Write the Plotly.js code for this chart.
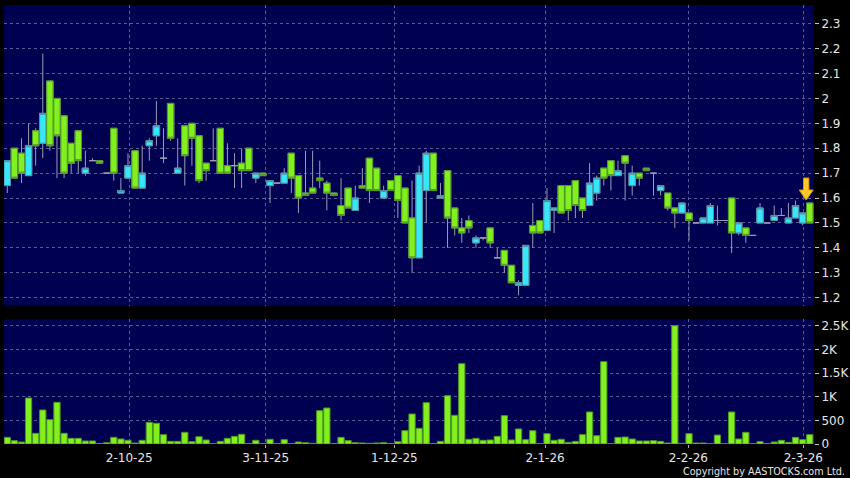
<!DOCTYPE html>
<html>
<head>
<meta charset="utf-8">
<script src="https://cdn.plot.ly/plotly-3.0.1.min.js"></script>
<style>
  html, body { margin: 0; padding: 0; background: #000000; }
  #chart { width: 850px; height: 478px; }
</style>
</head>
<body>
<div id="chart"></div>
<script>
// ---- Data ----
// Green candles = falling (open above close), cyan candles = rising.
const openP = [
  1.65,1.80,1.78,1.69,1.87,1.82,2.07,2.00,1.93,1.82,
  1.87,1.70,1.75,1.75,1.70,1.88,1.62,1.68,1.79,1.64,
  1.81,1.85,1.76,1.98,1.70,1.89,1.90,1.85,1.74,1.75,
  1.88,1.73,1.73,1.74,1.80,1.68,1.70,1.65,1.66,1.66,
  1.78,1.69,1.62,1.64,1.68,1.66,1.62,1.57,1.64,1.55,
  1.65,1.76,1.72,1.60,1.67,1.69,1.64,1.52,1.36,1.63,
  1.78,1.60,1.71,1.56,1.48,1.51,1.42,1.44,1.48,1.36,
  1.39,1.33,1.25,1.25,1.49,1.51,1.47,1.55,1.65,1.65,
  1.67,1.60,1.57,1.62,1.72,1.75,1.69,1.77,1.65,1.70,
  1.72,1.70,1.63,1.62,1.56,1.54,1.54,1.50,1.50,1.50,
  1.51,1.51,1.60,1.46,1.48,1.45,1.50,1.50,1.51,1.53,
  1.50,1.52,1.50,1.58
];
const highP = [
  1.75,1.80,1.84,1.90,1.88,2.18,2.07,2.00,1.93,1.82,
  1.87,1.79,1.76,1.75,1.70,1.88,1.68,1.78,1.79,1.81,
  1.84,1.99,1.88,1.98,1.84,1.89,1.90,1.85,1.74,1.88,
  1.88,1.82,1.78,1.80,1.80,1.70,1.70,1.67,1.66,1.72,
  1.78,1.69,1.79,1.79,1.75,1.67,1.62,1.68,1.64,1.65,
  1.72,1.76,1.72,1.65,1.67,1.69,1.64,1.67,1.73,1.79,
  1.78,1.66,1.71,1.56,1.52,1.53,1.45,1.44,1.48,1.40,
  1.39,1.33,1.27,1.41,1.58,1.51,1.64,1.56,1.65,1.65,
  1.67,1.60,1.74,1.69,1.72,1.75,1.75,1.77,1.73,1.70,
  1.72,1.70,1.65,1.62,1.56,1.58,1.54,1.50,1.52,1.58,
  1.57,1.51,1.60,1.50,1.48,1.45,1.58,1.50,1.57,1.56,
  1.58,1.59,1.54,1.58
];
const lowP = [
  1.62,1.68,1.66,1.69,1.73,1.76,1.79,1.68,1.68,1.70,
  1.70,1.69,1.75,1.74,1.70,1.67,1.62,1.68,1.64,1.64,
  1.75,1.81,1.74,1.83,1.70,1.65,1.73,1.66,1.67,1.75,
  1.70,1.70,1.64,1.64,1.71,1.66,1.69,1.58,1.66,1.66,
  1.62,1.54,1.61,1.62,1.64,1.55,1.61,1.51,1.56,1.55,
  1.64,1.58,1.63,1.60,1.63,1.52,1.50,1.30,1.36,1.50,
  1.63,1.60,1.40,1.45,1.42,1.46,1.40,1.43,1.40,1.36,
  1.30,1.26,1.21,1.25,1.40,1.46,1.47,1.46,1.54,1.51,
  1.52,1.52,1.57,1.59,1.65,1.63,1.69,1.59,1.61,1.65,
  1.71,1.61,1.61,1.55,1.48,1.54,1.43,1.50,1.50,1.50,
  1.49,1.51,1.38,1.45,1.42,1.45,1.50,1.50,1.51,1.53,
  1.50,1.52,1.49,1.50
];
const closeP = [
  1.75,1.68,1.70,1.81,1.81,1.94,1.81,1.85,1.70,1.74,
  1.75,1.72,1.75,1.74,1.70,1.70,1.63,1.73,1.64,1.70,
  1.83,1.89,1.76,1.84,1.72,1.77,1.84,1.67,1.71,1.75,
  1.70,1.70,1.73,1.71,1.71,1.70,1.69,1.67,1.66,1.70,
  1.68,1.60,1.61,1.62,1.67,1.62,1.61,1.53,1.56,1.60,
  1.64,1.63,1.63,1.63,1.63,1.59,1.50,1.36,1.70,1.78,
  1.63,1.61,1.52,1.48,1.46,1.48,1.44,1.44,1.42,1.36,
  1.33,1.26,1.26,1.41,1.46,1.46,1.59,1.56,1.54,1.55,
  1.57,1.55,1.66,1.68,1.68,1.69,1.71,1.74,1.70,1.68,
  1.71,1.70,1.65,1.56,1.54,1.58,1.51,1.50,1.52,1.57,
  1.51,1.51,1.46,1.50,1.45,1.45,1.56,1.50,1.53,1.53,
  1.52,1.57,1.54,1.50
];
const volume = [
  141,71,42,974,226,720,515,882,226,120,
  120,64,64,10,28,141,106,78,20,78,
  459,438,198,56,56,247,49,155,85,10,
  56,120,162,205,10,78,10,99,10,92,
  10,42,28,14,706,762,10,141,71,28,
  21,14,21,28,10,49,282,635,332,875,
  10,56,1024,607,1701,99,120,78,85,162,
  600,85,318,92,282,10,219,78,99,35,
  56,198,678,176,1744,7,141,148,106,64,
  64,71,56,21,2506,14,219,21,21,7,
  190,7,678,106,247,7,49,7,42,78,
  35,141,92,198
];
// Date tick labels and their positions on the session axis
const tickLabels = ["2-10-25","3-11-25","1-12-25","2-1-26","2-2-26","2-3-26"];
const tickPos    = [17.18, 36.39, 54.5, 75.73, 95.9, 112.1];
const priceTickVals = [1.2,1.3,1.4,1.5,1.6,1.7,1.8,1.9,2.0,2.1,2.2,2.3];
const priceTickText = ["1.2","1.3","1.4","1.5","1.6","1.7","1.8","1.9","2","2.1","2.2","2.3"];
const volTickVals = [0,500,1000,1500,2000,2500];
const volTickText = ["0","500","1K","1.5K","2K","2.5K"];

// ---- Build traces ----
const N = closeP.length;
const idx = closeP.map((_, i) => i);
const bodyOpen  = openP.map((o, i) => o === closeP[i] ? null : o);
const bodyClose = closeP.map((c, i) => c === openP[i] ? null : c);
const bodyHigh  = openP.map((o, i) => o === closeP[i] ? null : Math.max(o, closeP[i]));
const bodyLow   = openP.map((o, i) => o === closeP[i] ? null : Math.min(o, closeP[i]));

const WICK = '#9c9cb4';
const wicks = {
  type: 'candlestick', x: idx, open: openP, high: highP, low: lowP, close: closeP,
  xaxis: 'x', yaxis: 'y', whiskerwidth: 0, hoverinfo: 'skip',
  increasing: { line: { color: WICK, width: 1 }, fillcolor: WICK },
  decreasing: { line: { color: WICK, width: 1 }, fillcolor: WICK }
};
const bodies = {
  type: 'candlestick', x: idx, open: bodyOpen, high: bodyHigh, low: bodyLow, close: bodyClose,
  xaxis: 'x', yaxis: 'y', whiskerwidth: 0, hoverinfo: 'skip',
  increasing: { line: { color: '#4f8f9f', width: 1 }, fillcolor: '#36e6fa' },
  decreasing: { line: { color: '#4e9624', width: 1 }, fillcolor: '#82f01e' }
};
const vols = {
  type: 'bar', x: idx, y: volume, xaxis: 'x', yaxis: 'y2', hoverinfo: 'skip',
  marker: { color: '#82f01e', line: { color: '#4e9624', width: 1 } }
};

const GRID = '#5a5a98';
const FONT = { family: 'DejaVu Sans, Verdana, sans-serif', size: 12, color: '#e6e6e6' };

const layout = {
  width: 850, height: 478,
  paper_bgcolor: '#000000', plot_bgcolor: '#000050',
  margin: { l: 4, r: 36, t: 5, b: 34 },
  showlegend: false,
  boxmode: 'overlay', boxgap: 0.1, boxgroupgap: 0,
  bargap: 0.12,
  font: FONT,
  xaxis: {
    anchor: 'y2', range: [-0.46, 113.6], fixedrange: true,
    tickmode: 'array', tickvals: tickPos, ticktext: tickLabels,
    showgrid: true, gridcolor: GRID, griddash: '3px,3px', gridwidth: 1,
    ticks: 'outside', ticklen: 3, tickcolor: '#b0b0b0',
    tickfont: FONT, zeroline: false, showline: false,
    rangeslider: { visible: false }
  },
  yaxis: {
    domain: [0.314, 1], side: 'right', anchor: 'x', range: [1.166, 2.375], fixedrange: true,
    tickmode: 'array', tickvals: priceTickVals, ticktext: priceTickText,
    showgrid: true, gridcolor: GRID, griddash: '3px,3px', gridwidth: 1,
    ticks: 'outside', ticklen: 4, tickcolor: '#c8c8c8',
    tickfont: FONT, zeroline: false, showline: false
  },
  yaxis2: {
    domain: [0, 0.284], side: 'right', anchor: 'x', range: [0, 2640], fixedrange: true,
    tickmode: 'array', tickvals: volTickVals, ticktext: volTickText,
    showgrid: true, gridcolor: GRID, griddash: '3px,3px', gridwidth: 1,
    ticks: 'outside', ticklen: 4, tickcolor: '#c8c8c8',
    tickfont: FONT, zeroline: false, showline: false
  },
  shapes: [{
    type: 'path', xref: 'x', yref: 'y',
    xsizemode: 'pixel', ysizemode: 'pixel',
    xanchor: N - 1.5, yanchor: Math.max(highP[N - 1], highP[N - 2]),
    path: 'M0,3 L-7,13 L-2.7,13 L-2.7,25 L2.7,25 L2.7,13 L7,13 Z',
    fillcolor: '#ffc828', line: { color: '#d99a00', width: 1 }, layer: 'above'
  }],
  annotations: [{
    xref: 'paper', yref: 'paper', x: 1, y: 0, xshift: 33, yshift: -27,
    xanchor: 'right', yanchor: 'middle', showarrow: false,
    text: 'Copyright by AASTOCKS.com Ltd.',
    font: { family: 'DejaVu Sans Condensed, Liberation Sans Narrow, DejaVu Sans, sans-serif', size: 10.7, color: '#e6e6e6' }
  }]
};

Plotly.newPlot('chart', [wicks, bodies, vols], layout, { staticPlot: true, displayModeBar: false });
</script>
</body>
</html>
